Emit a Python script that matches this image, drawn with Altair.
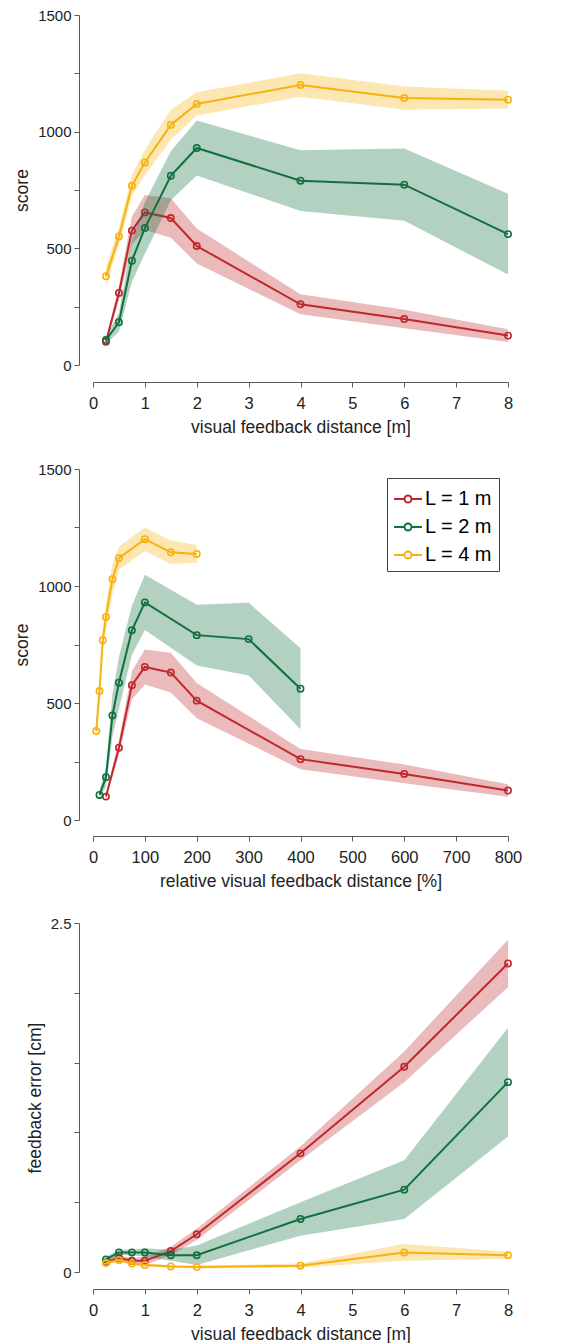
import altair as alt
import pandas as pd

# ---------------- data ----------------
dist = [0.25, 0.5, 0.75, 1, 1.5, 2, 4, 6, 8]
lengths = [1, 2, 4]
labels = ["L = 1 m", "L = 2 m", "L = 4 m"]
colors = ["#C1272D", "#11703F", "#F7B20F"]

score_L1 = [100, 309, 576, 654, 630, 510, 260, 197, 126]
score_L1_sd = [10, 30, 60, 75, 85, 75, 43, 40, 27]
score_L2 = [107, 183, 447, 587, 811, 930, 790, 773, 561]
score_L2_sd = [15, 40, 90, 110, 105, 118, 130, 155, 173]
score_L4 = [380, 551, 768, 868, 1029, 1119, 1200, 1144, 1137]
score_L4_sd = [40, 38, 45, 55, 65, 50, 50, 50, 38]

ferr_L1 = [0.07, 0.10, 0.08, 0.08, 0.15, 0.27, 0.85, 1.47, 2.21]
ferr_L1_sd = [0.02, 0.02, 0.02, 0.03, 0.03, 0.04, 0.05, 0.11, 0.17]
ferr_L2 = [0.09, 0.14, 0.14, 0.14, 0.12, 0.12, 0.38, 0.59, 1.36]
ferr_L2_sd = [0.02, 0.02, 0.02, 0.03, 0.04, 0.07, 0.12, 0.21, 0.39]
ferr_L4 = [0.065, 0.085, 0.06, 0.05, 0.04, 0.035, 0.045, 0.14, 0.12]
ferr_L4_sd = [0.01, 0.01, 0.01, 0.01, 0.01, 0.01, 0.015, 0.06, 0.025]

x_ticks_m = [0, 1, 2, 3, 4, 5, 6, 7, 8]
x_ticks_rel = [0, 100, 200, 300, 400, 500, 600, 700, 800]
y_ticks_score = [0, 250, 500, 750, 1000, 1250, 1500]
y_ticks_err = [0, 0.5, 1.0, 1.5, 2.0, 2.5]

rows = []
for lab, L, sc, scs, fe, fes in zip(
    labels, lengths,
    [score_L1, score_L2, score_L4], [score_L1_sd, score_L2_sd, score_L4_sd],
    [ferr_L1, ferr_L2, ferr_L4], [ferr_L1_sd, ferr_L2_sd, ferr_L4_sd],
):
    for i, d in enumerate(dist):
        rows.append(dict(
            series=lab, d=d, rel=d / L * 100,
            score=sc[i], score_lo=sc[i] - scs[i], score_hi=sc[i] + scs[i],
            err=fe[i], err_lo=max(0.0, fe[i] - fes[i]), err_hi=fe[i] + fes[i],
        ))
df = pd.DataFrame(rows)

FONT = "Liberation Sans"
AX = "#5a5a5a"
TXT = "#222222"

legend_path = ("M-1,0L-0.25,0M0.25,0L1,0"
               "M0.25,0A0.25,0.25 0 1,1 -0.25,0A0.25,0.25 0 1,1 0.25,0")


def panel(xfield, xdom, xvals, xtitle, yfield, ydom, yvals, ylabel_expr,
          yformat, ytitle, xoffset, height, show_legend):
    xaxis = alt.Axis(values=xvals, title=xtitle, offset=xoffset, format="d",
                     grid=False, tickSize=5, domainColor=AX, tickColor=AX,
                     labelFontSize=16.5, titleFontSize=17.5, labelPadding=8,
                     titlePadding=7, titleFontWeight="normal",
                     labelColor=TXT, titleColor=TXT, labelFont=FONT,
                     titleFont=FONT, labelFlush=False)
    yaxis = alt.Axis(values=yvals, title=ytitle, offset=14, format=yformat,
                     labelExpr=ylabel_expr, grid=False, tickSize=5,
                     domainColor=AX, tickColor=AX, labelFontSize=15,
                     titleFontSize=17.5, labelPadding=3, titlePadding=6,
                     titleFontWeight="normal", labelColor=TXT,
                     titleColor=TXT, labelFont=FONT, titleFont=FONT,
                     labelFlush=False)
    xs = alt.Scale(domain=xdom, nice=False, zero=False)
    ys = alt.Scale(domain=ydom, nice=False, zero=False)
    cs = alt.Scale(domain=labels, range=colors)
    if show_legend:
        leg = alt.Legend(title=None, orient="top-right", offset=9,
                         symbolType=legend_path, symbolSize=784,
                         symbolStrokeWidth=2, symbolFillColor="transparent",
                         labelFontSize=20, labelFont=FONT, labelColor="black",
                         strokeColor="#444444", fillColor="white",
                         padding=6, rowPadding=3, labelOffset=2)
    else:
        leg = None
    base = alt.Chart(df)
    layers = []
    for lab, col in zip(labels, colors):
        b = base.transform_filter(alt.datum.series == lab)
        area = b.mark_area(opacity=0.32, color=col).encode(
            x=alt.X(f"{xfield}:Q", scale=xs, axis=xaxis),
            y=alt.Y(f"{yfield}_lo:Q", scale=ys, axis=yaxis),
            y2=alt.Y2(f"{yfield}_hi:Q"),
        )
        line = b.mark_line(
            strokeWidth=2,
            point=alt.OverlayMarkDef(filled=False, size=40, strokeWidth=1.6),
        ).encode(
            x=alt.X(f"{xfield}:Q", scale=xs, axis=xaxis),
            y=alt.Y(f"{yfield}:Q", scale=ys, axis=yaxis),
            color=alt.Color("series:N", scale=cs, legend=leg),
        )
        layers += [area, line]
    return alt.layer(*layers).properties(width=415, height=height)


top = panel("d", [0, 8], x_ticks_m, "visual feedback distance [m]",
            "score", [0, 1500], y_ticks_score,
            "datum.value % 500 == 0 ? datum.label : ''", "d", "score",
            17, 350, False)
mid = panel("rel", [0, 800], x_ticks_rel, "relative visual feedback distance [%]",
            "score", [0, 1500], y_ticks_score,
            "datum.value % 500 == 0 ? datum.label : ''", "d", "score",
            16, 351, True)
bot = panel("d", [0, 8], x_ticks_m, "visual feedback distance [m]",
            "err", [0, 2.5], y_ticks_err,
            "(datum.value == 0 || datum.value == 2.5) ? datum.label : ''", "~g",
            "feedback error [cm]", 17, 349, False)

chart = alt.vconcat(top, mid, bot, spacing=26).resolve_scale(
    color="independent").resolve_legend(color="independent").properties(
    padding={"left": 5, "top": 0, "right": 5, "bottom": 0}
).configure(font=FONT).configure_view(strokeWidth=0)

chart.save("out.html", embed_options={"renderer": "svg", "actions": False})
